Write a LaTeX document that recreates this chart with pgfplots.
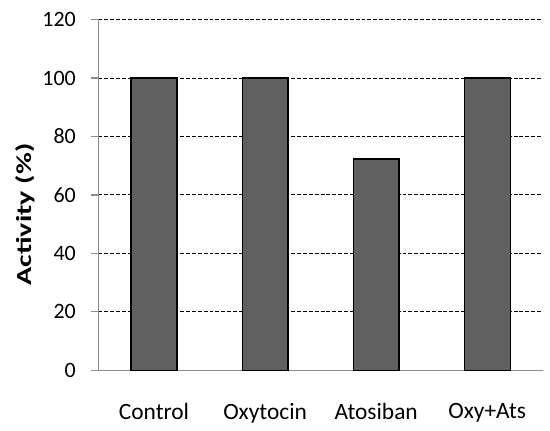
\documentclass[border=0pt]{standalone}
\usepackage{pgfplots}
\pgfplotsset{compat=1.18}
\usepackage{graphicx}
\usepackage{fontspec}
\setmainfont{Carlito}
\definecolor{barfill}{HTML}{606060}
\definecolor{axgray}{HTML}{8C8C8C}
\begin{document}
\fontsize{22}{26}\selectfont
\begin{tikzpicture}[x=1pt,y=1pt]
\begin{axis}[
  at={(0,0)}, anchor=south west,
  scale only axis,
  width=456pt, height=360pt,
  xmin=-0.5, xmax=3.5,
  ymin=0, ymax=120,
  ytick={0,20,...,120},
  xtick={0,1,2,3},
  xticklabels={Control,Oxytocin,Atosiban,Oxy+Ats},
  extra x ticks={-0.5,0.5,1.5,2.5,3.5},
  extra x tick labels={},
  extra x tick style={major tick length=8pt, tick style={axgray, line width=1.2pt}, grid=none},
  major x tick style={draw=none},
  axis x line*=bottom,
  axis y line*=left,
  axis line style={axgray, line width=1.2pt, -},
  tick align=outside,
  major tick length=8pt,
  ytick style={axgray, line width=1.2pt},
  ymajorgrids,
  grid style={black, dashed, line width=0.9pt, dash pattern=on 4pt off 2pt},
  yticklabel style={font=\fontsize{22.5}{26}\selectfont, inner sep=0pt, xshift=-15pt},
  xticklabel style={font=\fontsize{24}{28}\selectfont, yshift=-18pt},
  ylabel={\scalebox{1.4}[1]{\textbf{Activity (\%)}}},
  ylabel style={font=\fontsize{25}{28}\selectfont},
  every axis y label/.style={at={(-75pt,160pt)}, rotate=90, anchor=center},
  /pgf/number format/assume math mode=true,
  clip=false,
]
\addplot[ybar, bar width=47pt, fill=barfill, draw=black, line width=1.3pt]
  coordinates {(0,100) (1,100) (2,72.3) (3,100)};
\end{axis}
\path[use as bounding box] (-101pt,-43pt) rectangle (449pt,380pt);
\end{tikzpicture}
\end{document}
